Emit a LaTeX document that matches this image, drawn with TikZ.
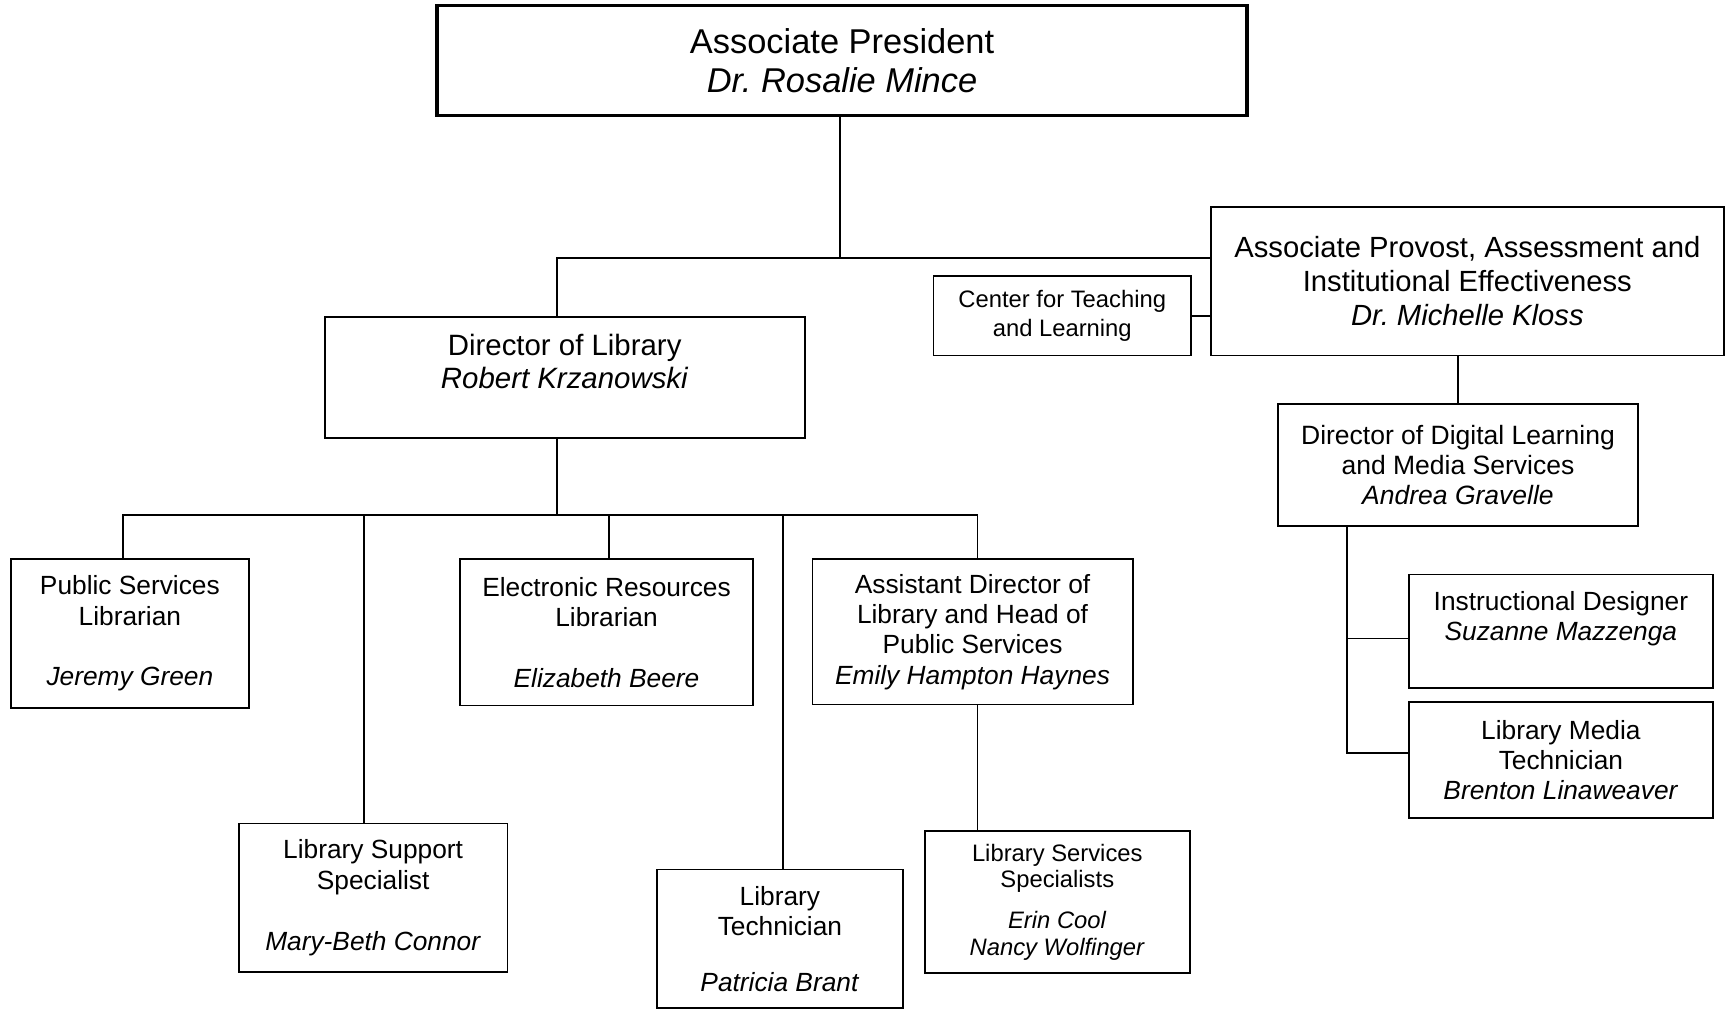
\documentclass[tikz,border=0pt]{standalone}
\usepackage{fontspec}
\setmainfont{Liberation Sans}

\begin{document}
\begin{tikzpicture}[
    box/.style={draw, line width=0.9pt, align=center, inner sep=0pt},
    staff/.style={box, font=\fontsize{13.6}{15.7}\selectfont},
    link/.style={line width=0.9pt}
]
    \useasboundingbox (0,0) rectangle (31.36,-18.36);

    \node[box, line width=1.8pt, minimum width=14.72cm, minimum height=2cm, font=\fontsize{17.8}{20.5}\selectfont] (pres) at (15.30,-1.10) {Associate President\\ \textit{Dr.\ Rosalie Mince}};

    \node[box, minimum width=9.32cm, minimum height=2.70cm, font=\fontsize{15.1}{17.6}\selectfont] (provost) at (26.66,-5.11) {Associate Provost, Assessment and\\ Institutional Effectiveness\\ \textit{Dr.\ Michelle Kloss}};
    \node[box, minimum width=4.68cm, minimum height=1.44cm, font=\fontsize{12.3}{14.8}\selectfont] (ctl) at (19.30,-5.74) {Center for Teaching\\ and Learning};
    \node[box, minimum width=8.72cm, minimum height=2.20cm, font=\fontsize{15.2}{17.1}\selectfont] (dirlib) at (10.26,-6.86) {Director of Library\\ \textit{Robert Krzanowski}\\ \mbox{}};
    \node[box, minimum width=6.54cm, minimum height=2.22cm, font=\fontsize{13.7}{15.6}\selectfont] (digital) at (26.49,-8.45) {Director of Digital Learning\\ and Media Services\\ \textit{Andrea Gravelle}};

    \node[staff, minimum width=4.32cm, minimum height=2.70cm] (pubserv) at (2.36,-11.51) {Public Services\\ Librarian\\[15.7pt] \textit{Jeremy Green}};
    \node[staff, minimum width=5.32cm, minimum height=2.66cm] (eres) at (11.02,-11.49) {Electronic Resources\\ Librarian\\[15.7pt] \textit{Elizabeth Beere}};
    \node[staff, minimum width=5.82cm, minimum height=2.64cm] (asstdir) at (17.67,-11.48) {Assistant Director of\\ Library and Head of\\ Public Services\\ \textit{Emily Hampton Haynes}};
    \node[staff, minimum width=4.88cm, minimum height=2.70cm] (support) at (6.78,-16.31) {Library Support\\ Specialist\\[15.7pt] \textit{Mary-Beth Connor}};
    \node[staff, minimum width=4.46cm, minimum height=2.52cm] (tech) at (14.17,-17.06) {Library\\ Technician\\[13pt] \textit{Patricia Brant}};
    \node[box, minimum width=4.82cm, minimum height=2.58cm, font=\fontsize{12.3}{13.7}\selectfont] (lss) at (19.21,-16.39) {Library Services\\ Specialists\\[7.4pt] \textit{Erin Cool}\\ \textit{Nancy Wolfinger}};

    \node[staff, minimum width=5.52cm, minimum height=2.06cm] (instr) at (28.36,-11.47) {Instructional Designer\\ \textit{Suzanne Mazzenga}\\ \mbox{}};
    \node[staff, minimum width=5.52cm, minimum height=2.10cm] (media) at (28.36,-13.81) {Library Media\\ Technician\\ \textit{Brenton Linaweaver}};

    \draw[link] ([xshift=-0.04cm]pres.south) -- ++(0,-2.56) coordinate (j1);
    \draw[link] ([xshift=-0.14cm]dirlib.north) |- (j1) -- (j1 -| provost.west);
    \draw[link] (ctl.east) -- (ctl.east -| provost.west);
    \draw[link] (digital.north) -- (digital.north |- provost.south);

    \draw[link] ([xshift=-0.14cm]dirlib.south) -- ++(0,-1.38) coordinate (j2);
    \foreach \n/\dx in {pubserv/-0.12, support/-0.16, eres/0.04, tech/0.05, asstdir/0.09}
        \draw[link] (j2) -| ([xshift=\dx cm]\n.north);
    \draw[link] ([xshift=0.09cm]asstdir.south) -- ([xshift=0.09cm]asstdir.south |- lss.north);

    \draw[link] ([xshift=-2.01cm]digital.south) |- ([yshift=-0.13cm]instr.west);
    \draw[link] ([xshift=-2.01cm]digital.south) |- ([yshift=0.13cm]media.west);
\end{tikzpicture}
\end{document}
